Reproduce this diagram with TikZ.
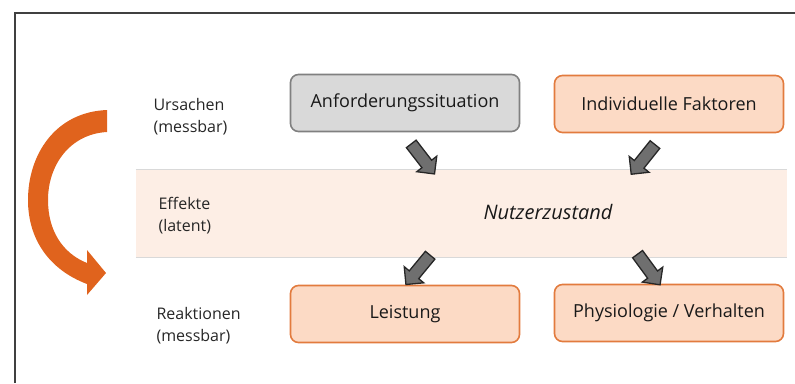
\documentclass[tikz,border=0pt]{standalone}
\usepackage{fontspec}
\setmainfont{Open Sans}
\usepackage{xcolor}
\usetikzlibrary{arrows,calc,positioning,shapes,shapes.arrows}

\definecolor{orfill}{HTML}{FCDAC5}
\definecolor{ordraw}{HTML}{E27B3E}
\definecolor{grfill}{HTML}{D9D9D9}
\definecolor{grdraw}{HTML}{808080}
\definecolor{bandfill}{HTML}{FDEEE5}
\definecolor{bogen}{HTML}{E0631D}
\definecolor{pfeilfill}{HTML}{6F6F6F}

\begin{document}
\begin{tikzpicture}[x=1pt,y=-1pt]

\tikzset{box/.style = {shape=rectangle,rounded corners=8pt,draw=ordraw,fill=orfill,line width=1.6pt,minimum width=229pt,minimum height=57pt,text=black!90,font=\fontsize{18}{22}\selectfont}}
\tikzset{graybox/.style = {box,draw=grdraw,fill=grfill}}
\tikzset{ebene/.style = {anchor=west,align=left,text=black!85,font=\fontsize{16}{22}\selectfont}}
\tikzset{pfeil/.style = {shape=single arrow,draw=black!85,fill=pfeilfill,line width=1.3pt,minimum height=38pt,minimum width=24pt,single arrow head extend=6.5pt,inner xsep=0pt,inner ysep=5.5pt,sloped,allow upside down}}

\useasboundingbox (0,0) rectangle (795,383);

% frame
\draw[black!75,line width=1.2pt] (15,383) -- (15,13) -- (795,13);

% band
\node[fill=bandfill,minimum width=651pt,minimum height=88pt,inner sep=0pt] (band) at (461.5,213) {};
\draw[black!15] (band.north west) -- (band.north east);
\draw[black!15] (band.south west) -- (band.south east);

% levels
\node[ebene] (urs) at (150,117) {Ursachen\\(messbar)};
\node[ebene] (eff) at (155,216) {Effekte\\(latent)};
\node[ebene] (rea) at (153,326) {Reaktionen\\(messbar)};

% boxes
\node[graybox] (anf) at (405,103) {Anforderungssituation};
\node[box] (ind) at (669,104) {Individuelle Faktoren};
\node[text=black!90,font=\fontsize{20}{24}\selectfont\itshape] (nutz) at (548,212) {Nutzerzustand};
\node[box] (lei) at (405,314) {Leistung};
\node[box] (phy) at (669,313) {Physiologie / Verhalten};

% arrow ends
\coordinate (a1t) at (409,141);
\coordinate (a1h) at (433,172);
\coordinate (a2t) at (657,142);
\coordinate (a2h) at (633,172);
\coordinate (a3t) at (432,253);
\coordinate (a3h) at (408,282);
\coordinate (a4t) at (636,252);
\coordinate (a4h) at (658,282);

%edges
\path (a1t) -- node[pfeil] (p1) {} (a1h);
\path (a2t) -- node[pfeil] (p2) {} (a2h);
\path (a3t) -- node[pfeil] (p3) {} (a3h);
\path (a4t) -- node[pfeil] (p4) {} (a4h);

% curved arrow
\fill[bogen] (107,110) .. controls (55,112) and (28,155) .. (28,200)
  .. controls (28,240) and (50,270) .. (87,284)
  -- (87,295) -- (106,273) -- (87,250) -- (87,263)
  .. controls (62,253) and (48,230) .. (48,200)
  .. controls (48,165) and (70,134) .. (107,132) -- cycle;
\end{tikzpicture}
\end{document}
